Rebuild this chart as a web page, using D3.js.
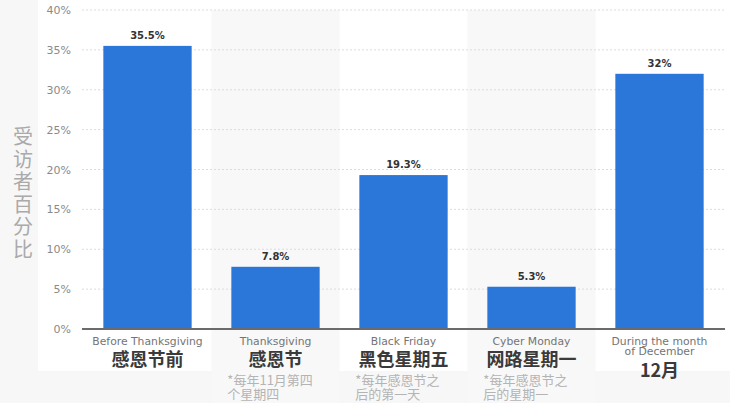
<!DOCTYPE html>
<html>
<head>
<meta charset="utf-8">
<script src="https://cdn.jsdelivr.net/npm/d3@7"></script>
<style>
  body { margin: 0; background: #f7f7f7; }
  svg { display: block; }
</style>
</head>
<body>
<div id="chart"></div>
<script>
const categories = ["Before Thanksgiving", "Thanksgiving", "Black Friday", "Cyber Monday", "During the month of December"];
const englishLines = [["Before Thanksgiving"], ["Thanksgiving"], ["Black Friday"], ["Cyber Monday"], ["During the month", "of December"]];
const chineseLabels = ["感恩节前", "感恩节", "黑色星期五", "网路星期一", "12月"];
const notes = [[], ["*每年11月第四", "个星期四"], ["*每年感恩节之", "后的第一天"], ["*每年感恩节之", "后的星期一"], []];
const values = [35.5, 7.8, 19.3, 5.3, 32];
const valueLabels = ["35.5%", "7.8%", "19.3%", "5.3%", "32%"];
const yTicks = [0, 5, 10, 15, 20, 25, 30, 35, 40];
const yTitle = "受访者百分比";

const W = 730, H = 403;
const barColor = "#2b77d9";
const latin = "'DejaVu Sans', Verdana, sans-serif";
const cjk = "'Noto Sans CJK SC', sans-serif";

const svg = d3.select("#chart").append("svg")
  .attr("width", W).attr("height", H);

// white card, faint grey frame left/bottom
svg.append("rect").attr("x", 38).attr("y", 0).attr("width", W - 38).attr("height", 371).attr("fill", "#fff");

const x = d3.scaleBand()
  .domain(categories)
  .range([83.5, 723.5])
  .paddingInner(0.31)
  .paddingOuter(0.155);

const y = d3.scaleLinear().domain([0, 40]).range([329, 10]);

const step = x.step();
const gap = step * x.paddingInner();

// alternate band stripes
svg.selectAll("rect.stripe")
  .data(categories.filter((d, i) => i % 2 === 1))
  .join("rect")
  .attr("class", "stripe")
  .attr("x", d => x(d) - gap / 2)
  .attr("y", y(40))
  .attr("width", step)
  .attr("height", H - y(40))
  .attr("fill", "#f8f8f8");

// gridlines
svg.selectAll("line.grid")
  .data(yTicks.filter(t => t > 0))
  .join("line")
  .attr("class", "grid")
  .attr("x1", 82).attr("x2", 725)
  .attr("y1", d => y(d)).attr("y2", d => y(d))
  .attr("stroke", "#dcdcdc")
  .attr("stroke-dasharray", "2,2");

// y tick labels
svg.selectAll("text.ytick")
  .data(yTicks)
  .join("text")
  .attr("class", "ytick")
  .attr("x", 71)
  .attr("y", d => y(d) + 4)
  .attr("text-anchor", "end")
  .attr("font-family", latin)
  .attr("font-size", 11)
  .attr("fill", "#8a8a8a")
  .text(d => d + "%");

// bars
svg.selectAll("rect.bar")
  .data(values)
  .join("rect")
  .attr("class", "bar")
  .attr("x", (d, i) => x(categories[i]))
  .attr("y", d => y(d))
  .attr("width", x.bandwidth())
  .attr("height", d => y(0) - y(d))
  .attr("fill", barColor);

// value labels
svg.selectAll("text.val")
  .data(values)
  .join("text")
  .attr("class", "val")
  .attr("x", (d, i) => x(categories[i]) + x.bandwidth() / 2)
  .attr("y", d => y(d) - 7)
  .attr("text-anchor", "middle")
  .attr("font-family", latin)
  .attr("font-weight", "bold")
  .attr("font-size", 10)
  .attr("fill", "#333")
  .text((d, i) => valueLabels[i]);

// baseline
svg.append("line")
  .attr("x1", 82).attr("x2", 725)
  .attr("y1", y(0)).attr("y2", y(0))
  .attr("stroke", "#6b6b6b")
  .attr("stroke-width", 2);

// category labels
const cat = svg.selectAll("g.cat")
  .data(categories)
  .join("g")
  .attr("class", "cat")
  .attr("transform", d => `translate(${x(d) + x.bandwidth() / 2},0)`);

cat.each(function(d, i) {
  const g = d3.select(this);
  const en = g.append("text")
    .attr("y", 345)
    .attr("text-anchor", "middle")
    .attr("font-family", latin)
    .attr("font-size", 10.8)
    .attr("fill", "#747474");
  englishLines[i].forEach((line, j) => {
    en.append("tspan").attr("x", 0).attr("y", 345 + j * 10).text(line);
  });
  g.append("text")
    .attr("y", englishLines[i].length > 1 ? 377 : 366)
    .attr("text-anchor", "middle")
    .attr("font-family", cjk)
    .attr("font-weight", "bold")
    .attr("font-size", 18)
    .attr("fill", "#3a3a3a")
    .text(chineseLabels[i]);
  if (notes[i].length) {
    const nt = g.append("text")
      .attr("font-family", cjk)
      .attr("font-size", 13)
      .attr("fill", "#b4b4b4");
    notes[i].forEach((line, j) => {
      nt.append("tspan")
        .attr("x", -x.bandwidth() / 2 - 4)
        .attr("y", 385 + j * 14)
        .text(line);
    });
  }
});

// vertical y axis title
svg.append("text")
  .attr("font-family", cjk)
  .attr("font-size", 20)
  .attr("fill", "#aaaaaa")
  .attr("text-anchor", "middle")
  .selectAll("tspan")
  .data(Array.from(yTitle))
  .join("tspan")
  .attr("x", 23)
  .attr("y", (d, i) => 144 + i * 22.5)
  .text(d => d);
</script>
</body>
</html>
